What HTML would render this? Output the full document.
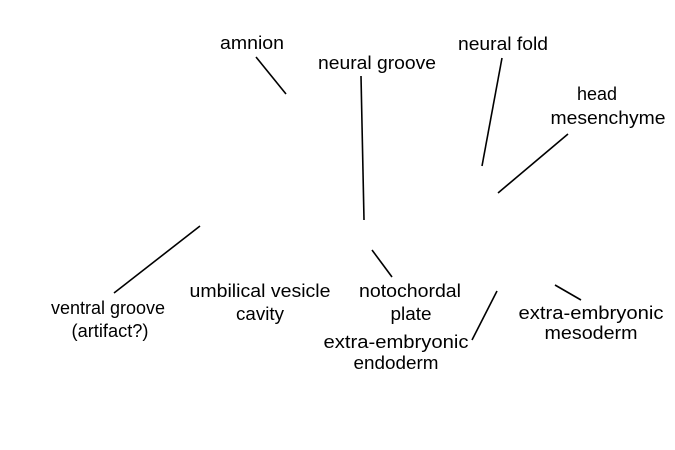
<!DOCTYPE html>
<html><head><meta charset="utf-8"><style>
html,body{margin:0;padding:0;background:#fff;width:675px;height:450px;overflow:hidden}
svg text{font-family:"Liberation Sans",Arial,sans-serif;font-size:18px;fill:#000;text-anchor:middle}
</style></head><body>
<svg width="675" height="450" viewBox="0 0 675 450" xmlns="http://www.w3.org/2000/svg">
<g stroke="#000" stroke-width="1.6" fill="none">
<line x1="256" y1="57" x2="286" y2="94"/>
<line x1="361" y1="76" x2="364" y2="220"/>
<line x1="502" y1="58" x2="482" y2="166"/>
<line x1="568" y1="134" x2="498" y2="193"/>
<line x1="200" y1="226" x2="114" y2="293"/>
<line x1="372" y1="250" x2="392" y2="277"/>
<line x1="497" y1="291" x2="472" y2="340"/>
<line x1="555" y1="285" x2="581" y2="300"/>
</g>
<text x="252" y="49" textLength="64" lengthAdjust="spacingAndGlyphs">amnion</text>
<text x="377" y="69" textLength="118" lengthAdjust="spacingAndGlyphs">neural groove</text>
<text x="503" y="50" textLength="90" lengthAdjust="spacingAndGlyphs">neural fold</text>
<text x="597" y="100" textLength="40" lengthAdjust="spacingAndGlyphs">head</text>
<text x="608" y="124" textLength="115" lengthAdjust="spacingAndGlyphs">mesenchyme</text>
<text x="108" y="314" textLength="114" lengthAdjust="spacingAndGlyphs">ventral groove</text>
<text x="110" y="337" textLength="77" lengthAdjust="spacingAndGlyphs">(artifact?)</text>
<text x="260" y="297" textLength="141" lengthAdjust="spacingAndGlyphs">umbilical vesicle</text>
<text x="260" y="320" textLength="48" lengthAdjust="spacingAndGlyphs">cavity</text>
<text x="410" y="297" textLength="102" lengthAdjust="spacingAndGlyphs">notochordal</text>
<text x="411" y="320" textLength="41" lengthAdjust="spacingAndGlyphs">plate</text>
<text x="396" y="348" textLength="145" lengthAdjust="spacingAndGlyphs">extra-embryonic</text>
<text x="396" y="369" textLength="85" lengthAdjust="spacingAndGlyphs">endoderm</text>
<text x="591" y="319" textLength="145" lengthAdjust="spacingAndGlyphs">extra-embryonic</text>
<text x="591" y="339" textLength="93" lengthAdjust="spacingAndGlyphs">mesoderm</text>
</svg>
</body></html>
